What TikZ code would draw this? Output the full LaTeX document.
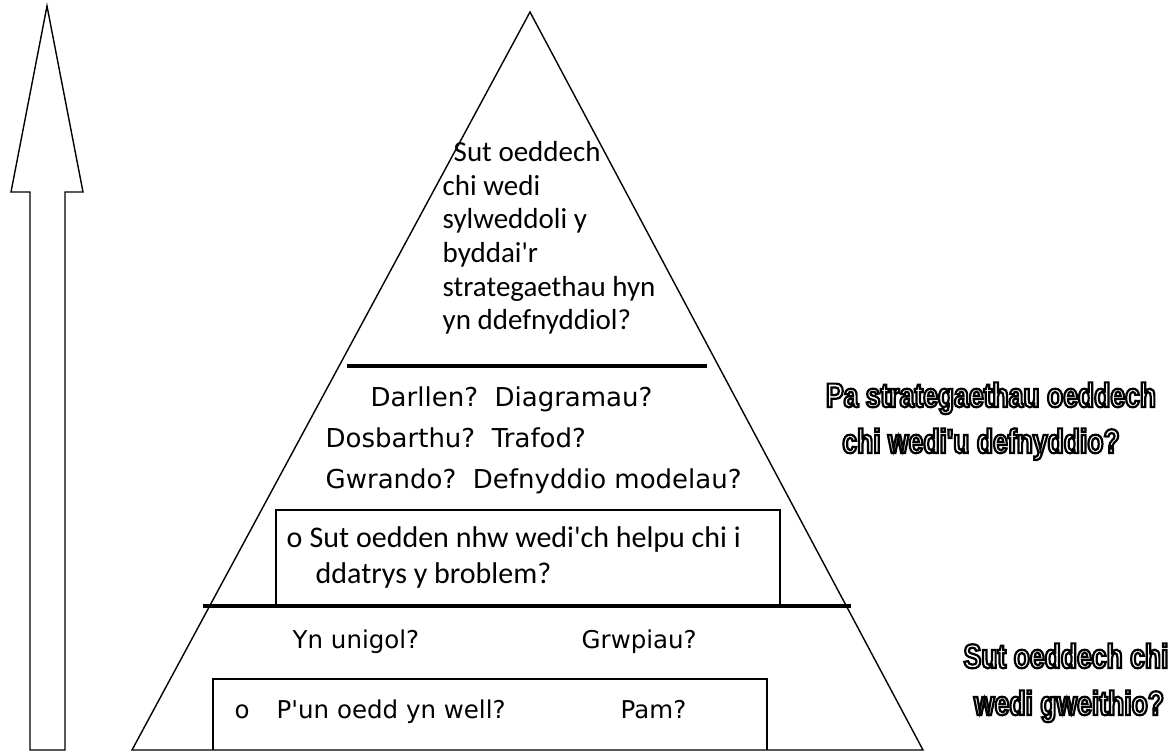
\documentclass[tikz,border=0pt]{standalone}
\usepackage{fontspec}
\usetikzlibrary{positioning}
\newfontfamily\calfont{Carlito}
\newfontfamily\vfont{DejaVu Sans}
\newfontfamily\narrowfont[FakeStretch=0.78]{Liberation Sans}
\tikzset{
every picture/.style={
line width=1.4pt
}}
\tikzset{
  divider/.style={line width=3.6pt},
  toptext/.style={font=\calfont\fontsize{29}{34}\selectfont, inner sep=0pt, anchor=base west},
  boxtext/.style={font=\calfont\fontsize{30}{36}\selectfont, inner sep=0pt, anchor=base west},
  midtext/.style={font=\vfont\fontsize{26}{31}\selectfont, inner sep=0pt, anchor=base west},
  lowtext/.style={font=\vfont\fontsize{24.5}{29}\selectfont, inner sep=0pt, anchor=base west},
  sidelabel/.style={font=\narrowfont\bfseries\fontsize{34}{40}\selectfont, inner sep=0pt, anchor=base}
}
% hollow letters: stroke the glyph outlines only
\newcommand{\hollow}[1]{\special{pdf:literal direct 1 Tr 2.2 w}#1\special{pdf:literal direct 0 Tr}}

\begin{document}
\begin{tikzpicture}[x=1pt, y=-1pt]
  \useasboundingbox (0,0) rectangle (1174,751);

  % big arrow on the left
  \draw (30,750) -- (30,192) -- (11,192) -- (47,6) -- (83,192) -- (65,192) -- (65,750) -- cycle;

  % pyramid, dividers and boxes
  \draw (530,12) -- (923,750) -- (132,750) -- cycle;
  \draw [divider] (347,366) -- (707,366);
  \draw [divider] (203,606) -- (851,606);
  \draw (276,606) |- (780,510) -- (780,606);
  \draw (213,750) |- (767,679) -- (767,750);

  % top of the pyramid
  \foreach \x/\l [count=\i from 0] in {453/Sut oeddech, 442/chi wedi, 442/sylweddoli y,
      442/byddai'r, 442/strategaethau hyn, 442/yn ddefnyddiol?} {
    \node [toptext] (q\i) at (\x, 162+33.5*\i) {\l};
  }

  % middle
  \node [midtext] (read) at (370,406) {Darllen?~~Diagramau?};
  \node [midtext] (sort) at (325,447) {Dosbarthu?~~Trafod?};
  \node [midtext] (listen) at (325,488) {Gwrando?~~Defnyddio modelau?};
  \node [boxtext] (dot2) at (286,547) {o};
  \node [boxtext] (help1) at (309,547) {Sut oedden nhw wedi'ch helpu chi i};
  \node [boxtext] (help2) at (315,583) {ddatrys y broblem?};

  % bottom
  \node [lowtext] (solo) at (292,648) {Yn unigol?};
  \node [lowtext] (groups) at (581,648) {Grwpiau?};
  \node [lowtext] (dot3) at (234,718) {o};
  \node [lowtext] (better) at (276,718) {P'un oedd yn well?};
  \node [lowtext] (why) at (620,718) {Pam?};

  % outlined labels on the right
  \node [sidelabel] (strat1) at (991,407) {\hollow{Pa strategaethau oeddech}};
  \node [sidelabel] (strat2) at (981,453) {\hollow{chi wedi'u defnyddio?}};
  \node [sidelabel] (work1) at (1066,668) {\hollow{Sut oeddech chi}};
  \node [sidelabel] (work2) at (1069,715) {\hollow{wedi gweithio?}};
\end{tikzpicture}
\end{document}
